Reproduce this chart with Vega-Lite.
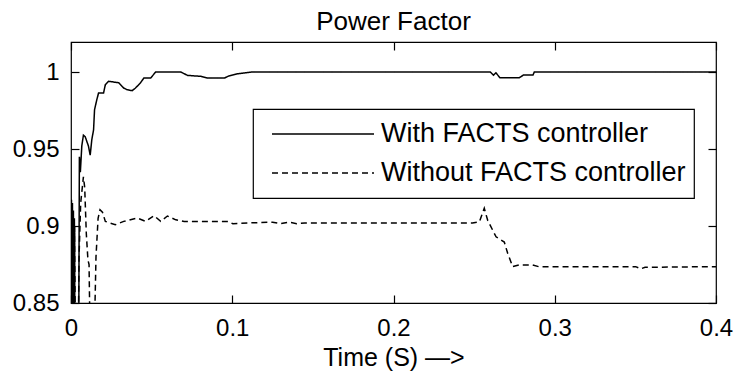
{
  "$schema": "https://vega.github.io/schema/vega-lite/v6.json",
  "autosize": "none",
  "width": 645,
  "height": 261,
  "padding": {"left": 71, "top": 42, "right": 21, "bottom": 73},
  "background": "white",
  "config": {
    "view": {"stroke": "black", "strokeWidth": 1.2},
    "font": "Liberation Sans",
    "axis": {"labelFont": "Liberation Sans", "titleFont": "Liberation Sans", "labelColor": "black", "titleColor": "black", "grid": false, "domain": false, "tickColor": "black", "tickWidth": 1.2, "labelFlush": false, "labelOverlap": false}
  },
  "title": {"text": "Power Factor", "fontSize": 26, "font": "Liberation Sans", "fontWeight": "normal", "color": "black", "anchor": "middle", "baseline": "alphabetic", "offset": 12, "dy": 27, "frame": "group"},
  "data": {"values": [
    {"t": 0.0, "v": 0.84, "s": "With FACTS controller"},
    {"t": 0.0003, "v": 0.917, "s": "With FACTS controller"},
    {"t": 0.0006, "v": 0.84, "s": "With FACTS controller"},
    {"t": 0.0009, "v": 0.915, "s": "With FACTS controller"},
    {"t": 0.0012, "v": 0.84, "s": "With FACTS controller"},
    {"t": 0.0015, "v": 0.91, "s": "With FACTS controller"},
    {"t": 0.0018, "v": 0.84, "s": "With FACTS controller"},
    {"t": 0.0021, "v": 0.905, "s": "With FACTS controller"},
    {"t": 0.0024, "v": 0.84, "s": "With FACTS controller"},
    {"t": 0.0048, "v": 0.83, "s": "With FACTS controller"},
    {"t": 0.0052, "v": 0.945, "s": "With FACTS controller"},
    {"t": 0.0058, "v": 0.935, "s": "With FACTS controller"},
    {"t": 0.0067, "v": 0.952, "s": "With FACTS controller"},
    {"t": 0.0077, "v": 0.959, "s": "With FACTS controller"},
    {"t": 0.0088, "v": 0.958, "s": "With FACTS controller"},
    {"t": 0.0108, "v": 0.952, "s": "With FACTS controller"},
    {"t": 0.0119, "v": 0.946, "s": "With FACTS controller"},
    {"t": 0.0129, "v": 0.956, "s": "With FACTS controller"},
    {"t": 0.014, "v": 0.9625, "s": "With FACTS controller"},
    {"t": 0.0146, "v": 0.9755, "s": "With FACTS controller"},
    {"t": 0.016, "v": 0.982, "s": "With FACTS controller"},
    {"t": 0.0171, "v": 0.9864, "s": "With FACTS controller"},
    {"t": 0.0202, "v": 0.9864, "s": "With FACTS controller"},
    {"t": 0.0213, "v": 0.9918, "s": "With FACTS controller"},
    {"t": 0.0233, "v": 0.994, "s": "With FACTS controller"},
    {"t": 0.0296, "v": 0.993, "s": "With FACTS controller"},
    {"t": 0.0327, "v": 0.9896, "s": "With FACTS controller"},
    {"t": 0.0348, "v": 0.9885, "s": "With FACTS controller"},
    {"t": 0.0379, "v": 0.9879, "s": "With FACTS controller"},
    {"t": 0.04, "v": 0.9896, "s": "With FACTS controller"},
    {"t": 0.0431, "v": 0.993, "s": "With FACTS controller"},
    {"t": 0.0452, "v": 0.9961, "s": "With FACTS controller"},
    {"t": 0.0494, "v": 0.9961, "s": "With FACTS controller"},
    {"t": 0.0525, "v": 1.0, "s": "With FACTS controller"},
    {"t": 0.0681, "v": 1.0, "s": "With FACTS controller"},
    {"t": 0.0723, "v": 0.9978, "s": "With FACTS controller"},
    {"t": 0.0806, "v": 0.9972, "s": "With FACTS controller"},
    {"t": 0.0848, "v": 0.9961, "s": "With FACTS controller"},
    {"t": 0.0952, "v": 0.9961, "s": "With FACTS controller"},
    {"t": 0.0973, "v": 0.9972, "s": "With FACTS controller"},
    {"t": 0.1035, "v": 0.9989, "s": "With FACTS controller"},
    {"t": 0.1119, "v": 1.0, "s": "With FACTS controller"},
    {"t": 0.26, "v": 1.0, "s": "With FACTS controller"},
    {"t": 0.262, "v": 0.998, "s": "With FACTS controller"},
    {"t": 0.2635, "v": 0.9995, "s": "With FACTS controller"},
    {"t": 0.266, "v": 0.9963, "s": "With FACTS controller"},
    {"t": 0.278, "v": 0.9963, "s": "With FACTS controller"},
    {"t": 0.2805, "v": 0.998, "s": "With FACTS controller"},
    {"t": 0.2865, "v": 0.998, "s": "With FACTS controller"},
    {"t": 0.2873, "v": 1.0, "s": "With FACTS controller"},
    {"t": 0.4, "v": 1.0, "s": "With FACTS controller"},
    {"t": 0.00015, "v": 0.84, "s": "Without FACTS controller"},
    {"t": 0.00045, "v": 0.912, "s": "Without FACTS controller"},
    {"t": 0.00075, "v": 0.84, "s": "Without FACTS controller"},
    {"t": 0.00105, "v": 0.91, "s": "Without FACTS controller"},
    {"t": 0.00135, "v": 0.84, "s": "Without FACTS controller"},
    {"t": 0.00165, "v": 0.905, "s": "Without FACTS controller"},
    {"t": 0.00195, "v": 0.84, "s": "Without FACTS controller"},
    {"t": 0.00225, "v": 0.9, "s": "Without FACTS controller"},
    {"t": 0.0026, "v": 0.84, "s": "Without FACTS controller"},
    {"t": 0.0045, "v": 0.83, "s": "Without FACTS controller"},
    {"t": 0.005, "v": 0.88, "s": "Without FACTS controller"},
    {"t": 0.006, "v": 0.915, "s": "Without FACTS controller"},
    {"t": 0.0077, "v": 0.932, "s": "Without FACTS controller"},
    {"t": 0.0085, "v": 0.925, "s": "Without FACTS controller"},
    {"t": 0.0095, "v": 0.895, "s": "Without FACTS controller"},
    {"t": 0.0105, "v": 0.878, "s": "Without FACTS controller"},
    {"t": 0.0112, "v": 0.875, "s": "Without FACTS controller"},
    {"t": 0.0118, "v": 0.83, "s": "Without FACTS controller"},
    {"t": 0.0145, "v": 0.83, "s": "Without FACTS controller"},
    {"t": 0.0155, "v": 0.88, "s": "Without FACTS controller"},
    {"t": 0.0168, "v": 0.905, "s": "Without FACTS controller"},
    {"t": 0.018, "v": 0.9106, "s": "Without FACTS controller"},
    {"t": 0.0195, "v": 0.909, "s": "Without FACTS controller"},
    {"t": 0.0213, "v": 0.903, "s": "Without FACTS controller"},
    {"t": 0.0244, "v": 0.9019, "s": "Without FACTS controller"},
    {"t": 0.0275, "v": 0.9008, "s": "Without FACTS controller"},
    {"t": 0.0327, "v": 0.903, "s": "Without FACTS controller"},
    {"t": 0.041, "v": 0.9052, "s": "Without FACTS controller"},
    {"t": 0.0463, "v": 0.903, "s": "Without FACTS controller"},
    {"t": 0.0515, "v": 0.9067, "s": "Without FACTS controller"},
    {"t": 0.0556, "v": 0.903, "s": "Without FACTS controller"},
    {"t": 0.0598, "v": 0.9065, "s": "Without FACTS controller"},
    {"t": 0.065, "v": 0.904, "s": "Without FACTS controller"},
    {"t": 0.0702, "v": 0.903, "s": "Without FACTS controller"},
    {"t": 0.0973, "v": 0.903, "s": "Without FACTS controller"},
    {"t": 0.1004, "v": 0.9015, "s": "Without FACTS controller"},
    {"t": 0.11, "v": 0.902, "s": "Without FACTS controller"},
    {"t": 0.125, "v": 0.9025, "s": "Without FACTS controller"},
    {"t": 0.13, "v": 0.9015, "s": "Without FACTS controller"},
    {"t": 0.135, "v": 0.9025, "s": "Without FACTS controller"},
    {"t": 0.14, "v": 0.9015, "s": "Without FACTS controller"},
    {"t": 0.145, "v": 0.902, "s": "Without FACTS controller"},
    {"t": 0.249, "v": 0.902, "s": "Without FACTS controller"},
    {"t": 0.2533, "v": 0.9028, "s": "Without FACTS controller"},
    {"t": 0.2563, "v": 0.9115, "s": "Without FACTS controller"},
    {"t": 0.2584, "v": 0.9037, "s": "Without FACTS controller"},
    {"t": 0.2636, "v": 0.893, "s": "Without FACTS controller"},
    {"t": 0.2687, "v": 0.8896, "s": "Without FACTS controller"},
    {"t": 0.2708, "v": 0.8823, "s": "Without FACTS controller"},
    {"t": 0.2739, "v": 0.8736, "s": "Without FACTS controller"},
    {"t": 0.278, "v": 0.8747, "s": "Without FACTS controller"},
    {"t": 0.2862, "v": 0.8747, "s": "Without FACTS controller"},
    {"t": 0.29, "v": 0.8736, "s": "Without FACTS controller"},
    {"t": 0.3502, "v": 0.8736, "s": "Without FACTS controller"},
    {"t": 0.3533, "v": 0.8722, "s": "Without FACTS controller"},
    {"t": 0.356, "v": 0.8732, "s": "Without FACTS controller"},
    {"t": 0.4, "v": 0.8736, "s": "Without FACTS controller"}
  ]},
  "layer": [
    {
      "mark": {"type": "line", "clip": true, "color": "black", "strokeWidth": 1.5},
      "encoding": {
        "x": {"field": "t", "type": "quantitative", "scale": {"domain": [0, 0.4], "nice": false, "zero": false},
              "axis": {"orient": "bottom", "values": [0, 0.1, 0.2, 0.3, 0.4], "format": "~g", "labelFontSize": 24, "tickSize": -8, "labelPadding": 21, "title": "Time (S) —>", "titleFontSize": 25, "titleFontWeight": "normal", "titlePadding": 5}},
        "y": {"field": "v", "type": "quantitative", "scale": {"domain": [0.85, 1.0195], "nice": false, "zero": false},
              "axis": {"orient": "left", "values": [0.85, 0.9, 0.95, 1], "format": "~g", "labelFontSize": 24, "tickSize": -8, "labelPadding": 20, "title": null}},
        "strokeDash": {"field": "s", "type": "nominal",
          "scale": {"domain": ["With FACTS controller", "Without FACTS controller"], "range": [[1, 0], [6, 4]]},
          "legend": {"orient": "none", "legendX": 182, "legendY": 67, "title": null, "strokeColor": "black", "fillColor": "white", "padding": 8, "clipHeight": 34, "rowPadding": 5, "symbolType": "stroke", "symbolSize": 10404, "symbolStrokeWidth": 1.5, "symbolStrokeColor": "black", "symbolOffset": 10, "labelOffset": 6, "labelFont": "Liberation Sans", "labelFontSize": 27, "labelColor": "black", "labelLimit": 0,
            "encode": {"legend": {"update": {"strokeWidth": {"value": 1.2}}}, "symbols": {"update": {"strokeDash": {"signal": "datum.value === 'Without FACTS controller' ? [1.5, 6] : [1, 0]"}}}}}
        }
      }
    },
    {
      "mark": {"type": "line", "clip": true, "strokeOpacity": 0},
      "encoding": {
        "x": {"field": "t", "type": "quantitative", "scale": {"domain": [0, 0.4], "nice": false, "zero": false},
              "axis": {"orient": "top", "values": [0, 0.1, 0.2, 0.3, 0.4], "labels": false, "tickSize": -8, "title": null}},
        "y": {"field": "v", "type": "quantitative", "scale": {"domain": [0.85, 1.0195], "nice": false, "zero": false},
              "axis": {"orient": "right", "values": [0.85, 0.9, 0.95, 1], "labels": false, "tickSize": -8, "title": null}},
        "detail": {"field": "s"}
      }
    }
  ],
  "resolve": {"scale": {"x": "independent", "y": "independent"}}
}
